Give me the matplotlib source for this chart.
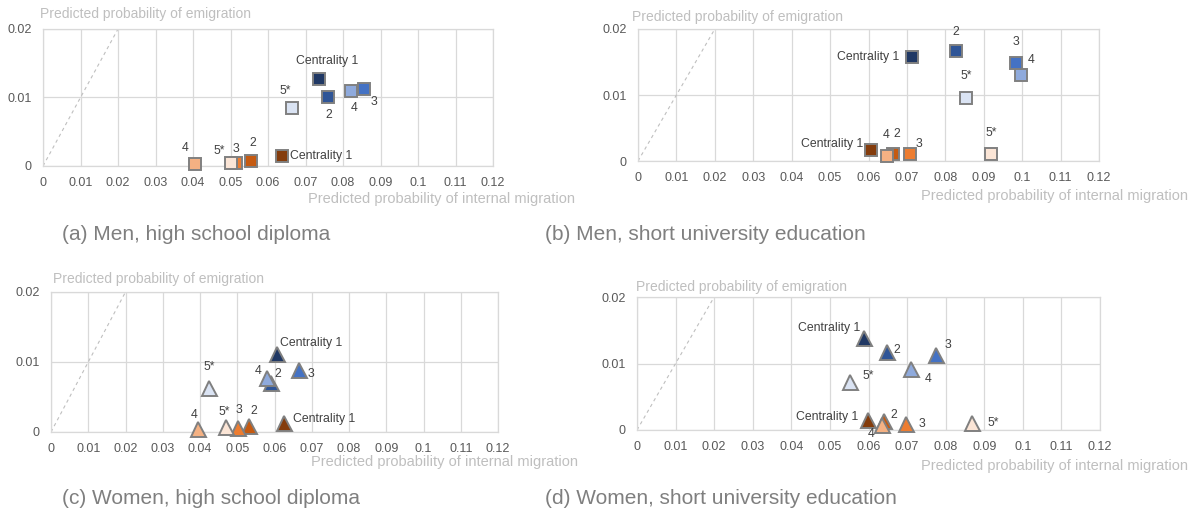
import matplotlib
matplotlib.use("Agg")
import matplotlib.pyplot as plt
from matplotlib import font_manager

# pick a narrow font close to Calibri if there is one
names = {f.name for f in font_manager.fontManager.ttflist}
base = "Liberation Sans Narrow" if "Liberation Sans Narrow" in names else "Liberation Sans"
plt.rcParams["font.family"] = [base, "DejaVu Sans"]

W, H = 1195, 515

labels = ["Centrality 1", "2", "3", "4", "5*"]
blue_cols = ["#203864", "#2F5597", "#4472C4", "#8FAADC", "#DAE3F3"]
orange_cols = ["#843C0C", "#C55A11", "#ED7D31", "#F4B183", "#FBE5D6"]

# (a) men, high school diploma
a_blue_x = [0.0735, 0.0760, 0.0856, 0.0822, 0.0664]
a_blue_y = [0.0127, 0.0100, 0.0112, 0.0110, 0.0085]
a_orng_x = [0.0637, 0.0554, 0.0514, 0.0404, 0.0500]
a_orng_y = [0.0014, 0.0007, 0.0005, 0.0003, 0.0005]

# (b) men, short university education
b_blue_x = [0.0714, 0.0827, 0.0985, 0.0998, 0.0855]
b_blue_y = [0.0158, 0.0166, 0.0149, 0.0130, 0.0096]
b_orng_x = [0.0606, 0.0664, 0.0707, 0.0648, 0.0920]
b_orng_y = [0.0016, 0.0011, 0.0011, 0.0008, 0.0011]

# (c) women, high school diploma
c_blue_x = [0.0606, 0.0590, 0.0667, 0.0579, 0.0424]
c_blue_y = [0.0111, 0.0070, 0.0088, 0.0077, 0.0063]
c_orng_x = [0.0626, 0.0531, 0.0501, 0.0394, 0.0469]
c_orng_y = [0.0013, 0.0008, 0.0006, 0.0005, 0.0007]

# (d) women, short university education
d_blue_x = [0.0589, 0.0647, 0.0774, 0.0709, 0.0553]
d_blue_y = [0.0138, 0.0118, 0.0113, 0.0091, 0.0072]
d_orng_x = [0.0599, 0.0640, 0.0698, 0.0636, 0.0869]
d_orng_y = [0.0015, 0.0013, 0.0009, 0.0008, 0.0011]

x_ticks = [0, 0.01, 0.02, 0.03, 0.04, 0.05, 0.06, 0.07, 0.08, 0.09, 0.1, 0.11, 0.12]
y_ticks = [0, 0.01, 0.02]
captions = ["(a) Men, high school diploma", "(b) Men, short university education",
            "(c) Women, high school diploma", "(d) Women, short university education"]

# label placement (dx, dy in pixels, alignment) per point
a_blue_off = [(8, 18, "center"), (1, -17, "center"), (10, -13, "center"), (3, -17, "center"), (-7, 17, "center")]
a_orng_off = [(8, 0, "left"), (2, 18, "center"), (0, 14, "center"), (-9, 16, "center"), (-11, 12, "center")]
b_blue_off = [(-13, 0, "right"), (0, 19, "center"), (0, 21, "center"), (10, 15, "center"), (0, 22, "center")]
b_orng_off = [(-8, 6, "right"), (4, 20, "center"), (9, 10, "center"), (-1, 21, "center"), (0, 21, "center")]
c_blue_off = [(3, 11, "left"), (7, 9, "center"), (12, -4, "center"), (-9, 7, "center"), (0, 21, "center")]
c_orng_off = [(9, 4, "left"), (5, 15, "center"), (1, 18, "center"), (-4, 13, "center"), (-1, 15, "center")]
d_blue_off = [(-4, 10, "right"), (10, 2, "center"), (12, 10, "center"), (18, -10, "center"), (18, 6, "center")]
d_orng_off = [(-10, 3, "right"), (10, 6, "center"), (16, 0, "center"), (-11, -9, "center"), (21, 0, "center")]

panels = [
    dict(box=(43, 29, 493, 166), marker="s", bx=a_blue_x, by=a_blue_y, ox=a_orng_x, oy=a_orng_y,
         boff=a_blue_off, ooff=a_orng_off, ytitle=(40, 14), xtitle=(575, 199), cap=(62, 235)),
    dict(box=(638, 29, 1099, 161), marker="s", bx=b_blue_x, by=b_blue_y, ox=b_orng_x, oy=b_orng_y,
         boff=b_blue_off, ooff=b_orng_off, ytitle=(632, 17), xtitle=(1188, 196), cap=(545, 235)),
    dict(box=(51, 292, 498, 432), marker="^", bx=c_blue_x, by=c_blue_y, ox=c_orng_x, oy=c_orng_y,
         boff=c_blue_off, ooff=c_orng_off, ytitle=(53, 279), xtitle=(578, 462), cap=(62, 498)),
    dict(box=(637, 297, 1100, 430), marker="^", bx=d_blue_x, by=d_blue_y, ox=d_orng_x, oy=d_orng_y,
         boff=d_blue_off, ooff=d_orng_off, ytitle=(636, 287), xtitle=(1188, 466), cap=(545, 498)),
]

fig = plt.figure(figsize=(W / 100, H / 100), dpi=100)

def fx(x):
    return x / W

def fy(y):
    return 1 - y / H

for i, p in enumerate(panels):
    l, t, r, b = p["box"]
    ax = fig.add_axes([fx(l), fy(b), (r - l) / W, (b - t) / H])
    ax.set_xlim(0, 0.12)
    ax.set_ylim(0, 0.02)
    ax.set_xticks(x_ticks)
    ax.set_yticks(y_ticks)
    ax.set_xticklabels(["%g" % v for v in x_ticks])
    ax.set_yticklabels(["%g" % v for v in y_ticks])
    ax.tick_params(length=0, labelsize=9, colors="#595959", pad=8)
    ax.grid(True, color="#D9D9D9", lw=0.9)
    ax.set_axisbelow(True)
    for s in ax.spines.values():
        s.set_color("#D9D9D9")
        s.set_linewidth(0.9)
    ax.plot([0, 0.02], [0, 0.02], ls=(0, (3, 3)), color="#BFBFBF", lw=0.8, zorder=2)

    ms = 12 if p["marker"] == "s" else 15
    for xs, ys, cols, offs in [(p["bx"], p["by"], blue_cols, p["boff"]),
                               (p["ox"], p["oy"], orange_cols, p["ooff"])]:
        for k in range(len(labels)):
            ax.plot(xs[k], ys[k], marker=p["marker"], ms=ms * 0.72, mfc=cols[k],
                    mec="#808080", mew=1.4, ls="none", zorder=3 + k, clip_on=False)
            dx, dy, ha = offs[k]
            ax.annotate(labels[k], (xs[k], ys[k]), xytext=(dx, dy), textcoords="offset pixels",
                        ha=ha, va="center", fontsize=8.8, color="#404040", zorder=10)

    fig.text(fx(p["ytitle"][0]), fy(p["ytitle"][1]), "Predicted probability of emigration",
             ha="left", va="center", fontsize=10, color="#BFBFBF")
    fig.text(fx(p["xtitle"][0]), fy(p["xtitle"][1]), "Predicted probability of internal migration",
             ha="right", va="center", fontsize=10.5, color="#BFBFBF")
    fig.text(fx(p["cap"][0]), fy(p["cap"][1]), captions[i],
             ha="left", va="center", fontsize=15, color="#7F7F7F")

fig.savefig("out.png", dpi=100)
